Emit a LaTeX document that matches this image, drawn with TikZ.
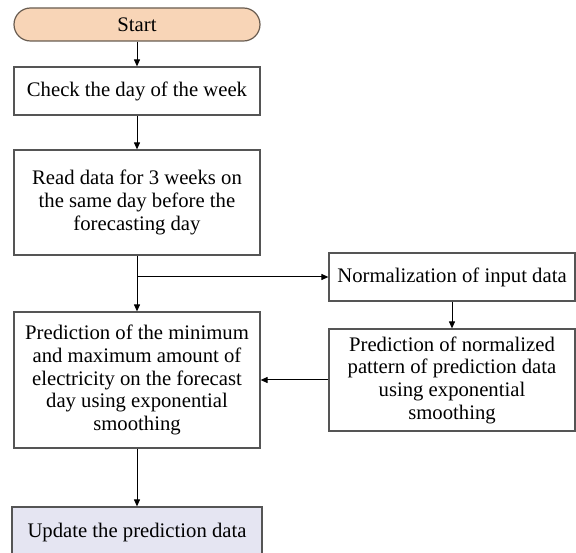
\documentclass[tikz,border=0pt]{standalone}
\usepackage{fontspec}
\setmainfont{Liberation Serif}
\usetikzlibrary{arrows.meta}
\definecolor{peach}{RGB}{248,213,183}
\definecolor{lav}{RGB}{229,229,242}
\definecolor{edge}{RGB}{85,85,85}
\begin{document}
\begin{tikzpicture}[x=1pt,y=-1pt,
  box/.style={draw=edge,line width=1.2pt,fill=white,minimum width=246pt,inner sep=0pt,align=center,
    font=\fontsize{20.7}{22.7}\selectfont},
  arr/.style={draw=black,line width=1pt,-{Triangle[length=7pt,width=6pt]}}]
\useasboundingbox (0,0) rectangle (576,553);
\node[box,fill=peach,draw={rgb,255:red,105;green,92;blue,80},rounded corners=16.5pt,minimum height=33pt] (start) at (137,24.5) {Start};
\node[box,minimum height=48pt] (check) at (137,91) {Check the day of the week};
\node[box,minimum height=105pt] (read) at (137,202.5) {Read data for 3 weeks on\\the same day before the\\forecasting day};
\node[box,minimum height=48pt] (norm) at (452,277) {Normalization of input data};
\node[box,minimum height=102pt] (pred2) at (452,380) {Prediction of normalized\\pattern of prediction data\\using exponential\\smoothing};
\node[box,minimum height=136pt] (pred1) at (137,380) {Prediction of the minimum\\and maximum amount of\\electricity on the forecast\\day using exponential\\smoothing};
\node[box,fill=lav,minimum width=250pt,minimum height=52pt] (upd) at (137,533) {Update the prediction data};
\coordinate (j) at (read.south |- norm.west);
\draw[arr] (start) -- (check);
\draw[arr] (check) -- (read);
\draw[arr] (read) -- (pred1);
\draw[arr] (j) -- (norm.west);
\draw[arr] (norm) -- (pred2);
\draw[arr] (pred2.west) -- (pred1.east);
\draw[arr] (pred1) -- (upd);
\end{tikzpicture}
\end{document}
